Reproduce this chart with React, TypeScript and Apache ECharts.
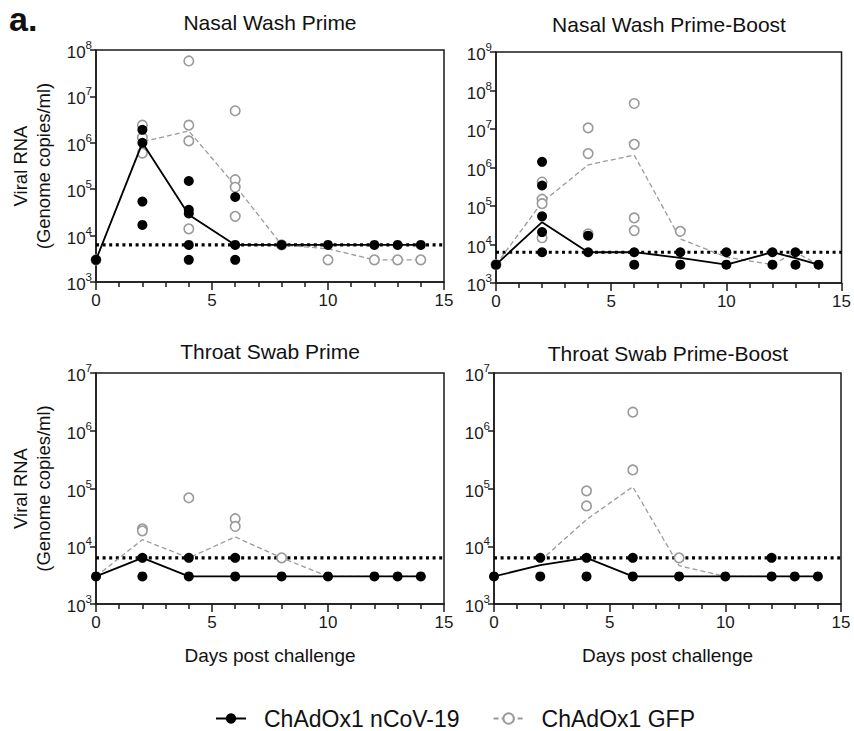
import React, { useEffect, useRef } from 'react';
import * as echarts from 'echarts';

const FONT = '"Liberation Sans", Arial, Helvetica, sans-serif';
const LOD = 6300;
const DAYS = [0, 2, 4, 6, 8, 10, 12, 13, 14];
const X_MAX = 15;
const Y_MIN = 1e3;
const VAX = 'ChAdOx1 nCoV-19';
const GFP = 'ChAdOx1 GFP';

const PANEL_TITLES = ['Nasal Wash Prime', 'Nasal Wash Prime-Boost', 'Throat Swab Prime', 'Throat Swab Prime-Boost'];
const Y_MAX = [1e8, 1e9, 1e7, 1e7];
const Y_NAME_LINES = ['Viral RNA', '(Genome copies/ml)'];
const X_NAME = 'Days post challenge';

// Nasal Wash Prime
const nwPrimeVaxPts = [
  [0, 3000],
  [2, 1.9e6], [2, 1.0e6], [2, 5.4e4], [2, 1.7e4],
  [4, 1.5e5], [4, 3.6e4], [4, 3.0e4], [4, LOD], [4, 3000],
  [6, 6.8e4], [6, LOD], [6, 3000],
  [8, LOD], [10, LOD], [12, LOD], [13, LOD], [14, LOD],
];
const nwPrimeVaxMean = [3000, 1.0e6, 2.8e4, LOD, LOD, LOD, LOD, LOD, LOD];
const nwPrimeGfpPts = [
  [0, 3000],
  [2, 2.4e6], [2, 1.3e6], [2, 6.0e5],
  [4, 5.8e7], [4, 2.4e6], [4, 1.1e6], [4, 1.4e4],
  [6, 4.9e6], [6, 1.6e5], [6, 1.1e5], [6, 2.6e4],
  [8, LOD], [10, 3000], [12, 3000], [13, 3000], [14, 3000],
];
const nwPrimeGfpMean = [3000, 1.05e6, 1.8e6, 1.2e5, LOD, 5.2e3, 3000, 3000, 3000];

// Nasal Wash Prime-Boost
const nwBoostVaxPts = [
  [0, 3000],
  [2, 1.4e6], [2, 3.4e5], [2, 5.4e4], [2, 2.1e4], [2, LOD],
  [4, 1.7e4], [4, LOD],
  [6, LOD], [6, 3000],
  [8, LOD], [8, 3000],
  [10, LOD], [10, 3000],
  [12, LOD], [12, 3000],
  [13, LOD], [13, 3000],
  [14, 3000],
];
const nwBoostVaxMean = [3000, 3.8e4, LOD, LOD, 4.5e3, 3000, LOD, 4.4e3, 3000];
const nwBoostGfpPts = [
  [0, 3000],
  [2, 4.2e5], [2, 1.5e5], [2, 1.15e5], [2, 1.5e4],
  [4, 1.07e7], [4, 2.3e6], [4, 1.9e4],
  [6, 4.6e7], [6, 4.0e6], [6, 4.9e4], [6, 2.3e4],
  [8, 2.2e4],
];
const nwBoostGfpMean = [3000, 1.25e5, 1.17e6, 2.1e6, 1.4e4, 4.7e3, 3000, LOD, 3000];

// Throat Swab Prime
const tsPrimeVaxPts = [
  [0, 3000],
  [2, LOD], [2, 3000],
  [4, LOD], [4, 3000],
  [6, LOD], [6, 3000],
  [8, 3000], [10, 3000], [12, 3000], [13, 3000], [14, 3000],
];
const tsPrimeVaxMean = [3000, LOD, 3000, 3000, 3000, 3000, 3000, 3000, 3000];
const tsPrimeGfpPts = [
  [2, 2.0e4], [2, 1.85e4],
  [4, 6.9e4],
  [6, 3.0e4], [6, 2.2e4],
  [8, LOD],
];
const tsPrimeGfpMean = [3000, 1.3e4, LOD, 1.45e4, LOD, 3000, 3000, 3000, 3000];

// Throat Swab Prime-Boost
const tsBoostVaxPts = [
  [0, 3000],
  [2, LOD], [2, 3000],
  [4, LOD], [4, 3000],
  [6, LOD], [6, 3000],
  [8, 3000], [10, 3000],
  [12, LOD], [12, 3000],
  [13, 3000], [14, 3000],
];
const tsBoostVaxMean = [3000, 4.7e3, LOD, 3000, 3000, 3000, 3000, 3000, 3000];
const tsBoostGfpPts = [
  [4, 9.1e4], [4, 5.0e4],
  [6, 2.1e6], [6, 2.1e5],
  [8, LOD],
];
const tsBoostGfpMean = [null, 5.6e3, 2.9e4, 1.07e5, 4.6e3, 3000, 3000, 3000, 3000];

const PANELS = [
  { vaxPts: nwPrimeVaxPts, vaxMean: nwPrimeVaxMean, gfpPts: nwPrimeGfpPts, gfpMean: nwPrimeGfpMean },
  { vaxPts: nwBoostVaxPts, vaxMean: nwBoostVaxMean, gfpPts: nwBoostGfpPts, gfpMean: nwBoostGfpMean },
  { vaxPts: tsPrimeVaxPts, vaxMean: tsPrimeVaxMean, gfpPts: tsPrimeGfpPts, gfpMean: tsPrimeGfpMean },
  { vaxPts: tsBoostVaxPts, vaxMean: tsBoostVaxMean, gfpPts: tsBoostGfpPts, gfpMean: tsBoostGfpMean },
];

const GRIDS = [
  { left: 96, top: 50, width: 348, height: 232 },
  { left: 496, top: 52, width: 347, height: 231 },
  { left: 96, top: 373, width: 348, height: 231 },
  { left: 494, top: 373, width: 347, height: 231 },
];

const INK = '#1a1a1a';
const GREY = '#9a9a9a';

function buildOption() {
  const grid = GRIDS.map((g) => ({
    ...g,
    show: true,
    borderColor: INK,
    borderWidth: 1.5,
    backgroundColor: 'transparent',
  }));

  const xAxis = GRIDS.map((_, i) => ({
    type: 'value',
    gridIndex: i,
    min: 0,
    max: X_MAX,
    interval: 5,
    axisLine: { show: true, onZero: false, lineStyle: { color: INK, width: 1.5 } },
    axisTick: { show: true, length: 8, lineStyle: { color: INK, width: 1.5 } },
    minorTick: { show: true, splitNumber: 5, length: 5, lineStyle: { color: INK, width: 1.5 } },
    splitLine: { show: false },
    minorSplitLine: { show: false },
    axisLabel: { fontSize: 17, color: INK, fontFamily: FONT, margin: 10 },
  }));

  const yAxis = GRIDS.map((_, i) => ({
    type: 'log',
    logBase: 10,
    gridIndex: i,
    min: Y_MIN,
    max: Y_MAX[i],
    interval: 1,
    axisLine: { show: true, onZero: false, lineStyle: { color: INK, width: 1.5 } },
    axisTick: { show: true, length: 6, lineStyle: { color: INK, width: 1.5 } },
    splitLine: { show: false },
    axisLabel: {
      margin: 4,
      formatter: (v: number) => `{b|10}{s|${Math.round(Math.log10(v))}}`,
      rich: {
        b: { fontSize: 17, fontFamily: FONT, color: INK, lineHeight: 22, verticalAlign: 'bottom' },
        s: { fontSize: 11.5, fontFamily: FONT, color: INK, lineHeight: 13, verticalAlign: 'top' },
      },
    },
  }));

  const series: any[] = [];
  PANELS.forEach((p, i) => {
    series.push({
      name: 'LOD',
      type: 'line',
      xAxisIndex: i,
      yAxisIndex: i,
      data: [[0, LOD], [X_MAX, LOD]],
      symbol: 'none',
      silent: true,
      lineStyle: { color: '#000', width: 3.2, type: [3, 3.6] },
      z: 1,
    });
    series.push({
      name: GFP,
      type: 'line',
      xAxisIndex: i,
      yAxisIndex: i,
      data: DAYS.map((d, k) => [d, p.gfpMean[k]]),
      connectNulls: false,
      symbol: 'circle',
      symbolSize: 9,
      showSymbol: false,
      itemStyle: { color: '#fff', borderColor: GREY, borderWidth: 1.5, opacity: 1 },
      lineStyle: { color: GREY, width: 1.3, type: [5, 3] },
      z: 2,
    });
    series.push({
      name: GFP,
      type: 'scatter',
      xAxisIndex: i,
      yAxisIndex: i,
      data: p.gfpPts,
      symbol: 'circle',
      symbolSize: 9.5,
      itemStyle: { color: '#fff', borderColor: GREY, borderWidth: 1.6, opacity: 1 },
      z: 3,
    });
    series.push({
      name: VAX,
      type: 'line',
      xAxisIndex: i,
      yAxisIndex: i,
      data: DAYS.map((d, k) => [d, p.vaxMean[k]]),
      symbol: 'circle',
      symbolSize: 10,
      showSymbol: false,
      itemStyle: { color: '#000', opacity: 1 },
      lineStyle: { color: '#000', width: 1.8 },
      z: 4,
    });
    series.push({
      name: VAX,
      type: 'scatter',
      xAxisIndex: i,
      yAxisIndex: i,
      data: p.vaxPts,
      symbol: 'circle',
      symbolSize: 10,
      itemStyle: { color: '#000', opacity: 1 },
      z: 5,
    });
  });

  const titleCenters = [
    { x: 270, y: 12 },
    { x: 669, y: 14 },
    { x: 270, y: 341 },
    { x: 668, y: 343 },
  ];
  const title: any[] = PANEL_TITLES.map((t, i) => ({
    text: t,
    left: titleCenters[i].x,
    top: titleCenters[i].y,
    textAlign: 'center',
    padding: 0,
    textStyle: { fontSize: 21, fontWeight: 'normal', color: '#111', fontFamily: FONT },
  }));
  title.push({
    text: 'a.',
    left: 9,
    top: 2,
    padding: 0,
    textStyle: { fontSize: 34, fontWeight: 'bold', color: '#111', fontFamily: FONT, lineHeight: 34 },
  });

  const graphic: any[] = [];
  [0, 2].forEach((gi) => {
    const g = GRIDS[gi];
    const cy = g.top + g.height / 2;
    Y_NAME_LINES.forEach((line, li) => {
      graphic.push({
        type: 'text',
        x: li === 0 ? 20 : 43,
        y: cy,
        rotation: Math.PI / 2,
        style: {
          text: line,
          fontSize: 18.5,
          fontFamily: FONT,
          fill: '#111',
          align: 'center',
          verticalAlign: 'middle',
        },
      });
    });
  });
  [2, 3].forEach((gi) => {
    const g = GRIDS[gi];
    graphic.push({
      type: 'text',
      x: g.left + g.width / 2,
      y: 655,
      style: {
        text: X_NAME,
        fontSize: 19,
        fontFamily: FONT,
        fill: '#111',
        align: 'center',
        verticalAlign: 'middle',
      },
    });
  });

  return {
    animation: false,
    backgroundColor: '#fff',
    title,
    grid,
    xAxis,
    yAxis,
    series,
    graphic,
    legend: {
      data: [VAX, GFP],
      left: 215,
      top: 707,
      padding: 0,
      itemWidth: 30,
      itemHeight: 13,
      itemGap: 33,
      textStyle: { fontSize: 23, color: '#111', fontFamily: FONT, padding: [0, 0, 0, 13] },
      selectedMode: false,
    },
  };
}

export default function App() {
  const ref = useRef<HTMLDivElement>(null);
  useEffect(() => {
    if (!ref.current) return;
    const chart = echarts.init(ref.current, null, { renderer: 'svg' });
    chart.setOption(buildOption() as any);
    return () => chart.dispose();
  }, []);
  return <div ref={ref} style={{ width: 854, height: 731, position: 'absolute', left: 0, top: 0 }} />;
}
